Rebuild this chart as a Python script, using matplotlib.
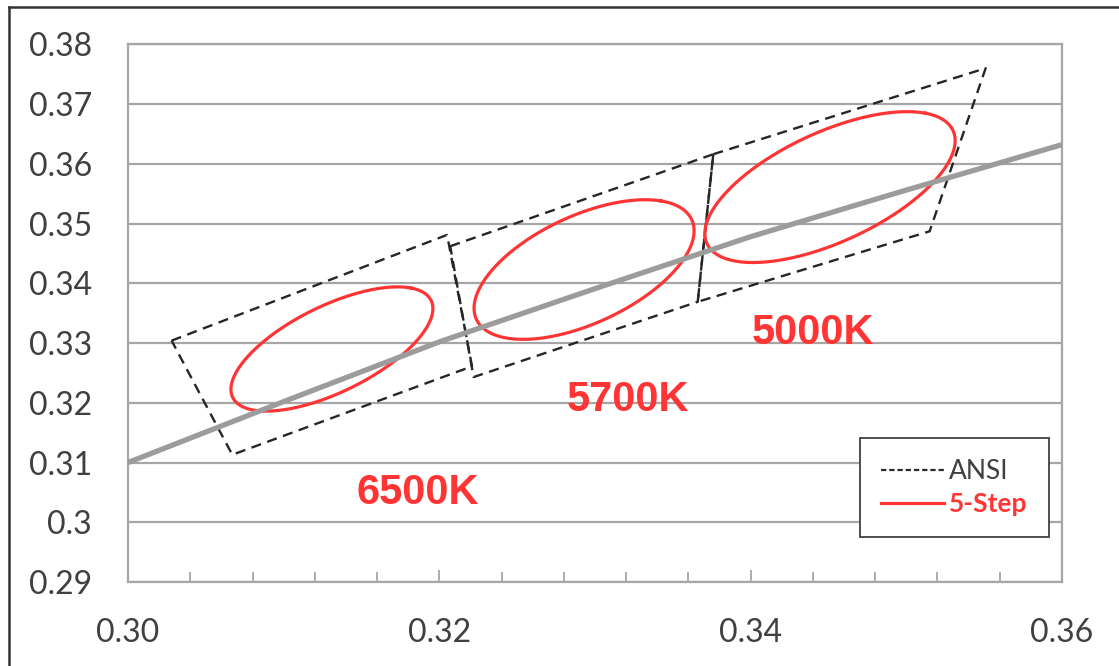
import numpy as np
import matplotlib
matplotlib.use('Agg')
import matplotlib.pyplot as plt
from matplotlib.lines import Line2D

# locus line
locus_x = [0.300, 0.310, 0.320, 0.330, 0.340, 0.350, 0.360]
locus_y = [0.3100, 0.3202, 0.3302, 0.3391, 0.3478, 0.3556, 0.3632]

# ANSI quadrangles, corners in order
cct_names = ['6500K', '5700K', '5000K']
quad_x = [[0.3028, 0.3205, 0.3221, 0.3067],
          [0.3207, 0.3376, 0.3366, 0.3222],
          [0.3376, 0.3551, 0.3515, 0.3366]]
quad_y = [[0.3304, 0.3481, 0.3261, 0.3113],
          [0.3462, 0.3616, 0.3369, 0.3243],
          [0.3616, 0.3760, 0.3487, 0.3369]]

# 5-step ellipses: centre, semi axes, angle (deg)
ell_cx = [0.3131, 0.3293, 0.3451]
ell_cy = [0.3290, 0.3423, 0.3561]
ell_a = [0.0114, 0.0125, 0.0138]
ell_b = [0.0045, 0.0055, 0.0058]
ell_theta = [63.5, 66.7, 63.6]

# label positions (baseline)
label_x = [0.3186, 0.3321, 0.3440]
label_y = [0.3030, 0.3186, 0.3299]

x_ticks = [0.30, 0.32, 0.34, 0.36]
x_ticklabels = ['0.30', '0.32', '0.34', '0.36']
y_ticks = [0.29, 0.30, 0.31, 0.32, 0.33, 0.34, 0.35, 0.36, 0.37, 0.38]
y_ticklabels = ['0.29', '0.3', '0.31', '0.32', '0.33', '0.34', '0.35', '0.36', '0.37', '0.38']

RED = '#FF3535'
GRID = '#A6A6A6'
TXT = '#404040'


def main():
    fig = plt.figure(figsize=(11.19, 6.66), dpi=100)
    ax = fig.add_axes([0.1144, 0.1261, 0.8346, 0.8074])

    # ANSI boxes
    for qx, qy in zip(quad_x, quad_y):
        ax.plot(qx + qx[:1], qy + qy[:1], color='#262626', lw=1.7,
                dashes=(4.3, 2.8), zorder=3)

    # ellipses
    t = np.linspace(0, 2 * np.pi, 300)
    for cx, cy, a, b, th in zip(ell_cx, ell_cy, ell_a, ell_b, ell_theta):
        r = np.radians(th)
        ex = cx + a * np.cos(t) * np.cos(r) - b * np.sin(t) * np.sin(r)
        ey = cy + a * np.cos(t) * np.sin(r) + b * np.sin(t) * np.cos(r)
        ax.plot(ex, ey, color=RED, lw=2.3, zorder=4)

    ax.plot(locus_x, locus_y, color='#9C9C9C', lw=3.8, zorder=5,
            solid_capstyle='butt')

    for name, lx, ly in zip(cct_names, label_x, label_y):
        ax.text(lx, ly, name, color=RED, fontsize=30, fontweight='bold',
                family='Liberation Sans', ha='center', va='baseline', zorder=6)

    ax.set_xlim(0.30, 0.36)
    ax.set_ylim(0.29, 0.38)
    ax.set_xticks(x_ticks)
    ax.set_xticklabels(x_ticklabels)
    ax.set_xticks(np.arange(0.30, 0.3601, 0.004), minor=True)
    ax.set_yticks(y_ticks)
    ax.set_yticklabels(y_ticklabels)

    ax.grid(axis='y', color=GRID, lw=1.6, zorder=0)
    ax.set_axisbelow(True)
    for s in ax.spines.values():
        s.set_color(GRID)
        s.set_linewidth(1.6)

    ax.tick_params(axis='x', which='both', direction='in', color=GRID,
                   width=1.3, pad=26, labelsize=23, labelcolor=TXT)
    ax.tick_params(axis='x', which='major', length=9)
    ax.tick_params(axis='x', which='minor', length=7)
    ax.tick_params(axis='y', length=0, pad=26, labelsize=23, labelcolor=TXT)
    for lab in ax.get_xticklabels() + ax.get_yticklabels():
        lab.set_family('Lato')

    # legend
    h_ansi = Line2D([], [], color='#2b2b2b', lw=1.6, dashes=(2.4, 1.3))
    h_step = Line2D([], [], color=RED, lw=2.3)
    leg = ax.legend([h_ansi, h_step], ['ANSI', '5-Step'],
                    loc='lower right', bbox_to_anchor=(0.986, 0.084),
                    borderaxespad=0.0,
                    prop={'family': 'Lato', 'size': 19}, handlelength=2.4,
                    handletextpad=0.2, borderpad=0.8, labelspacing=0.3,
                    fancybox=False, framealpha=1, edgecolor='#404040')
    leg.get_frame().set_linewidth(1.3)
    texts = leg.get_texts()
    texts[0].set_color(TXT)
    texts[1].set_color(RED)
    texts[1].set_fontweight('bold')
    leg.set_zorder(10)

    # outer border (top and left only, as in the crop)
    fig.add_artist(Line2D([9 / 1119, 1.0], [1 - 7 / 666, 1 - 7 / 666],
                          transform=fig.transFigure, color='#333333', lw=1.8))
    fig.add_artist(Line2D([9 / 1119, 9 / 1119], [0.0, 1 - 7 / 666],
                          transform=fig.transFigure, color='#333333', lw=1.8))

    fig.savefig('out.png', dpi=100)


if __name__ == '__main__':
    main()
